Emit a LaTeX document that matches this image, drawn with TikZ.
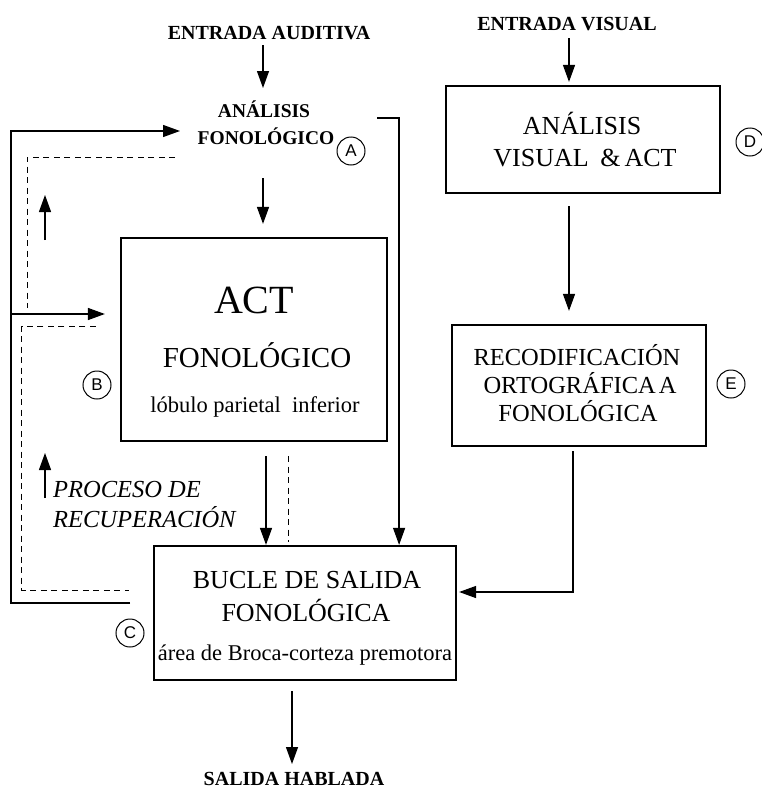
\documentclass[tikz,border=0pt]{standalone}
\usepackage{fontspec}
\setmainfont{Liberation Serif}
\newfontfamily\circfont{Liberation Sans}
\usetikzlibrary{arrows.meta,calc}
\begin{document}
\begin{tikzpicture}[x=1pt,y=-1pt,
 box/.style={draw,line width=2.2pt,inner sep=0pt},
 conn/.style={line width=1.3pt,-{Triangle[length=17pt,width=12pt]}},
 dline/.style={line width=1pt,dash pattern=on 6pt off 4.5pt},
 iolbl/.style={inner sep=0pt,anchor=base,font=\fontsize{20}{24}\selectfont\bfseries},
 anlbl/.style={inner sep=0pt,anchor=base,font=\fontsize{19.5}{24}\selectfont\bfseries},
 txt/.style={inner sep=0pt,anchor=base},
 circ/.style={draw,circle,line width=1pt,minimum size=28pt,inner sep=0pt,font=\circfont\fontsize{17}{17}\selectfont},
]
\useasboundingbox (0,0) rectangle (762,790);

% ---- left column ----
\node[iolbl] (ea) at (269,39) {ENTRADA AUDITIVA};
\node[anlbl] (an1) at (264,117.5) {ANÁLISIS};
\node[anlbl] (an2) at (266,144.5) {FONOLÓGICO};
\node[circ] (cA) at (351,151) {A};

\node[box,minimum width=266pt,minimum height=203pt] (act) at (254,339.5) {};
\node[txt,font=\fontsize{40}{44}\selectfont] (act1) at (254,313) {ACT};
\node[txt,font=\fontsize{29}{32}\selectfont] (act2) at (257,367) {FONOLÓGICO};
\node[txt,font=\fontsize{22.5}{26}\selectfont] (act3) at (255,412) {lóbulo parietal\ \ inferior};
\node[circ] (cB) at (97,385) {B};

\node[txt,anchor=base west,font=\fontsize{24.5}{28}\selectfont\itshape] (proc1) at (53,497) {PROCESO DE};
\node[txt,anchor=base west,font=\fontsize{24.5}{28}\selectfont\itshape] (proc2) at (53,527) {RECUPERACIÓN};

\node[box,minimum width=302pt,minimum height=134pt] (bucle) at (305,613) {};
\node[txt,font=\fontsize{26}{30}\selectfont] (b1) at (307,588) {BUCLE DE SALIDA};
\node[txt,font=\fontsize{26}{30}\selectfont] (b2) at (306,621) {FONOLÓGICA};
\node[txt,font=\fontsize{22.5}{26}\selectfont] (b3) at (305,660) {área de Broca-corteza premotora};
\node[circ] (cC) at (130,633) {C};

\node[iolbl] (sh) at (294,785.5) {SALIDA HABLADA};

% ---- right column ----
\node[iolbl] (ev) at (567,30) {ENTRADA VISUAL};
\node[box,minimum width=274pt,minimum height=107pt] (av) at (583,139.5) {};
\node[txt,font=\fontsize{26}{30}\selectfont] (av1) at (582,134) {ANÁLISIS};
\node[txt,font=\fontsize{26}{30}\selectfont] (av2) at (585,166) {VISUAL\hspace{0.45em}\&\hspace{0.15em}ACT};
\node[circ] (cD) at (750,142) {D};

\node[box,minimum width=254pt,minimum height=121pt] (rec) at (579,385.5) {};
\node[txt,font=\fontsize{24.5}{28}\selectfont] (r1) at (577,365) {RECODIFICACIÓN};
\node[txt,font=\fontsize{24.5}{28}\selectfont] (r2) at (580,393) {ORTOGRÁFICA\hspace{0.12em}A};
\node[txt,font=\fontsize{24.5}{28}\selectfont] (r3) at (578,421) {FONOLÓGICA};
\node[circ] (cE) at (731,384) {E};

% ---- connectors ----
\draw[conn] ($(ea.base)+(-6,6)$) -- ($(an1.base)+(-1,-29.5)$);
\draw[conn] ($(an2.base)+(-3,33.5)$) -- ($(act.north)+(9,-13)$);
\coordinate (ra) at (377,118);
\draw[conn] (ra) -| ($(bucle.north east)+(-58,0)$);
\draw[conn] ($(act.south)+(12,14)$) -- ($(bucle.north)+(-39,0)$);
\draw[dline] ($(act.south)+(34,14)$) -- ($(bucle.north)+(-17,-3)$);
\draw[conn] ($(bucle.south)+(-13,10)$) -- ($(sh.base)+(-2,-21.5)$);

\draw[conn] ($(ev.base)+(2,8)$) -- ($(av.north)+(-14,-3)$);
\draw[conn] ($(av.south)+(-14,12)$) -- ($(rec.north)+(-10,-13)$);
\draw[conn] ($(rec.south)+(-6,4)$) |- ($(bucle.east)+(2,-21)$);

% feedback loop (solid)
\coordinate (lb) at (130,603);
\draw[conn] (lb) -- ++(-119,0) |- ($(an1.base)+(-84,13.5)$);
\coordinate (lm) at (11,314);
\draw[conn] (lm) -- ($(act.west)+(-15,-25.5)$);

% retrieval process (dashed)
\coordinate (d1) at (27,308);
\draw[dline] ($(an2.base)+(-91,12.5)$) -| (d1);
\draw[dline] ($(act.west)+(-24,-13.5)$) -- ++(-74,0) -- ++(0,264) -- ++(107,0);
\coordinate (u1) at (45,240);
\draw[conn] (u1) -- ++(0,-45);
\coordinate (u2) at (45,498);
\draw[conn] (u2) -- ++(0,-45);
\end{tikzpicture}
\end{document}
